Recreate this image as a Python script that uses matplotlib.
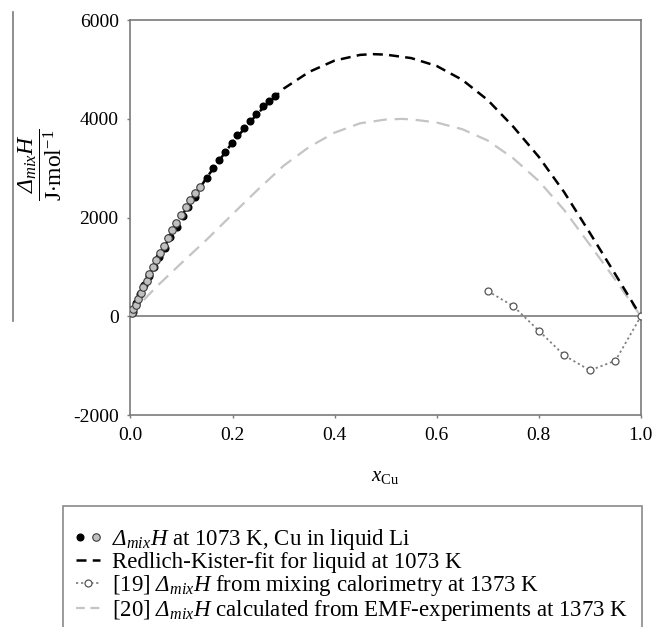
import matplotlib
matplotlib.use("Agg")
import matplotlib.pyplot as plt
from matplotlib.lines import Line2D
from matplotlib.patches import Rectangle
from matplotlib.legend_handler import HandlerTuple

plt.rcParams['font.family'] = ['Liberation Serif', 'DejaVu Serif']
plt.rcParams['mathtext.fontset'] = 'custom'
plt.rcParams['mathtext.rm'] = 'Liberation Serif'
plt.rcParams['mathtext.it'] = 'Liberation Serif:italic'
plt.rcParams['mathtext.bf'] = 'Liberation Serif:bold'
# sf slot used for the italic capital Delta (mathtext forces Greek caps upright in \mathit)
plt.rcParams['mathtext.sf'] = 'Liberation Serif:italic'
plt.rcParams['axes.unicode_minus'] = False

# measured dH_mix at 1073 K, Cu in liquid Li (two series)
x_black = [0.004, 0.011, 0.019, 0.027, 0.036, 0.0454, 0.0565, 0.067, 0.0774, 0.0905,
           0.102, 0.113, 0.1257, 0.149, 0.1616, 0.1737, 0.186, 0.198, 0.209,
           0.2217, 0.2335, 0.246, 0.2596, 0.271, 0.283]
h_black = [90, 260, 460, 640, 820, 1003, 1206, 1375, 1598, 1813,
           2030, 2218, 2421, 2806, 2995, 3164, 3332, 3502, 3670,
           3818, 3954, 4089, 4258, 4359, 4466]
x_grey = [0.0035, 0.0055, 0.010, 0.0147, 0.020, 0.025, 0.0317, 0.037, 0.044, 0.050,
          0.057, 0.065, 0.0735, 0.081, 0.0898, 0.0989, 0.108, 0.117, 0.126, 0.136]
h_grey = [59, 140, 234, 356, 464, 599, 720, 855, 1003, 1145,
          1281, 1429, 1591, 1746, 1881, 2043, 2206, 2354, 2502, 2611]

# Redlich-Kister fit at 1073 K
x_fit = [0.0, 0.025, 0.05, 0.1, 0.15, 0.2, 0.25, 0.3, 0.35, 0.4, 0.45, 0.475, 0.5,
         0.55, 0.6, 0.65, 0.7, 0.75, 0.8, 0.85, 0.9, 0.95, 1.0]
h_fit = [0, 580, 1100, 2030, 2820, 3525, 4120, 4610, 4950, 5180, 5295, 5310, 5300,
         5230, 5070, 4790, 4380, 3840, 3230, 2510, 1690, 850, 0]

# [19] mixing calorimetry at 1373 K
x_cal = [0.70, 0.75, 0.80, 0.85, 0.90, 0.95, 1.0]
h_cal = [511, 207, -292, -792, -1095, -900, 0]

# [20] from EMF experiments at 1373 K
x_emf = [0.0, 0.025, 0.05, 0.1, 0.15, 0.2, 0.25, 0.3, 0.35, 0.4, 0.45, 0.5,
         0.53, 0.55, 0.6, 0.65, 0.7, 0.75, 0.8, 0.85, 0.9, 0.95, 1.0]
h_emf = [0, 320, 590, 1080, 1560, 2070, 2570, 3050, 3430, 3720, 3910, 3985,
         3998, 3990, 3925, 3790, 3560, 3200, 2740, 2150, 1450, 740, 0]

fig = plt.figure(figsize=(6.59, 6.27), dpi=100)
ax = fig.add_axes([0.198, 0.338, 0.7745, 0.630])

spine_col = '#7a7a7a'
ax.axhline(0, color=spine_col, lw=1.2, zorder=1)

emf_line, = ax.plot(x_emf, h_emf, color='#c4c4c4', lw=1.6, dashes=(6, 3.5), zorder=2)
fit_line, = ax.plot(x_fit, h_fit, color='black', lw=1.8, dashes=(4, 2.5), zorder=3)
cal_line, = ax.plot(x_cal, h_cal, color='#808080', lw=1.3, ls=(0, (1.2, 1.6)),
                    marker='o', ms=5, mfc='white', mec='#555555', mew=0.9, zorder=4)
black_pts, = ax.plot(x_black, h_black, 'o', color='black', ms=4.8, zorder=5)
grey_pts, = ax.plot(x_grey, h_grey, 'o', mfc='#c0c0c0', mec='#3a3a3a', mew=0.8,
                    ms=5.4, zorder=6)

ax.set_xlim(0, 1.0)
ax.set_ylim(-2000, 6000)
ax.set_xticks([0.0, 0.2, 0.4, 0.6, 0.8, 1.0])
ax.set_xticklabels(['0.0', '0.2', '0.4', '0.6', '0.8', '1.0'])
ax.set_yticks([-2000, 0, 2000, 4000, 6000])
ax.tick_params(direction='out', length=2.5, width=1.0, color=spine_col,
               labelsize=14, pad=6)
for s in ax.spines.values():
    s.set_color(spine_col)
    s.set_linewidth(1.2)

dH = r'\mathsf{\Delta}_{mix}H'

fig.text(385 / 659, 1 - 476 / 627, r'$x_{\mathrm{Cu}}$', fontsize=15,
         ha='center', va='center')
fig.text(40 / 659, 1 - 165 / 627,
         r'$\dfrac{' + dH + r'}{\mathrm{J{\cdot}mol^{-1}}}$',
         fontsize=17, rotation=90, ha='center', va='center')

# stray border line on the left
fig.add_artist(Line2D([13 / 659, 13 / 659], [1 - 12 / 627, 1 - 321 / 627],
                      color=spine_col, lw=1.2))

# legend box (runs off the bottom of the image)
fig.add_artist(Rectangle((63 / 659, -0.05), (642 - 63) / 659, 0.05 + 1 - 506 / 627,
                         transform=fig.transFigure, fill=False,
                         edgecolor='#8a8a8a', lw=1.2))

handles = [(black_pts, grey_pts),
           Line2D([], [], color='black', lw=1.8, dashes=(4, 2.5)),
           Line2D([], [], color='#808080', lw=1.3, ls=(0, (1.2, 1.6)), marker='o',
                  ms=5, mfc='white', mec='#555555', mew=0.9),
           Line2D([], [], color='#c4c4c4', lw=1.6, dashes=(4, 2.5))]
labels = ['$' + dH + '$ at 1073 K, Cu in liquid Li',
          'Redlich-Kister-fit for liquid at 1073 K',
          '[19] $' + dH + '$ from mixing calorimetry at 1373 K',
          '[20] $' + dH + '$ calculated from EMF-experiments at 1373 K']
fig.legend(handles, labels, loc='upper left',
           bbox_to_anchor=(76 / 659, 1 - 527 / 627), frameon=False, fontsize=16.5,
           handlelength=1.05, handletextpad=0.5, labelspacing=0.0,
           borderaxespad=0, borderpad=0,
           handler_map={tuple: HandlerTuple(ndivide=None, pad=0.4)})

fig.savefig('out.png', dpi=100)
